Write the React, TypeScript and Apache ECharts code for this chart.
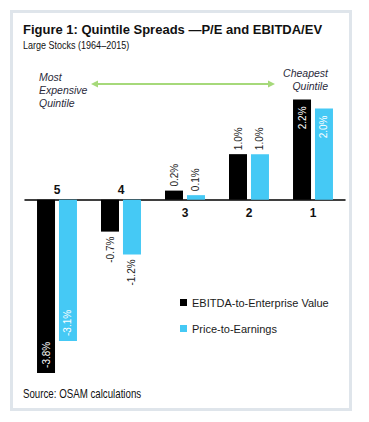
import React, { useEffect, useRef } from "react";
import * as echarts from "echarts";

const categories = ["5", "4", "3", "2", "1"];
const ebitdaEv = [-3.8, -0.7, 0.2, 1.0, 2.2];
const priceEarnings = [-3.1, -1.2, 0.1, 1.0, 2.0];
const seriesNames = ["EBITDA-to-Enterprise Value", "Price-to-Earnings"];

const SANS = '"Liberation Sans", Arial, Helvetica, sans-serif';

function labelFor(v: number) {
  const big = Math.abs(v) >= 2;
  const base = {
    show: true,
    rotate: 90,
    verticalAlign: "middle",
    fontFamily: SANS,
    fontSize: 10,
    formatter: (p: any) => p.value.toFixed(1) + "%",
  } as any;
  if (v >= 0) {
    return big
      ? { ...base, position: "insideTop", align: "right", distance: 7, color: "#ffffff" }
      : { ...base, position: "top", align: "left", distance: 4, color: "#222222" };
  }
  return big
    ? { ...base, position: "insideBottom", align: "left", distance: 5, color: "#ffffff" }
    : { ...base, position: "bottom", align: "right", distance: 5, color: "#222222" };
}

export default function App() {
  const ref = useRef<HTMLDivElement>(null);
  useEffect(() => {
    if (!ref.current) return;
    const chart = echarts.init(ref.current, null, { renderer: "svg" });
    const option: any = {
      animation: false,
      backgroundColor: "#ffffff",
      grid: { left: 25, top: 63, width: 320, height: 319, containLabel: false },
      xAxis: {
        type: "category",
        data: categories,
        axisLine: { onZero: true, lineStyle: { color: "#000000", width: 1.5 } },
        axisTick: { show: false },
        axisLabel: { show: false },
      },
      yAxis: {
        type: "value",
        min: -4,
        max: 3,
        show: false,
        splitLine: { show: false },
      },
      legend: {
        data: seriesNames,
        orient: "vertical",
        left: 180,
        top: 297,
        padding: 0,
        itemWidth: 7,
        itemHeight: 7,
        itemGap: 15,
        icon: "rect",
        textStyle: { fontFamily: SANS, fontSize: 11, color: "#1a1a1a" },
      },
      series: [
        {
          name: seriesNames[0],
          type: "bar",
          barWidth: 18,
          barGap: "22%",
          itemStyle: { color: "#000000" },
          data: ebitdaEv.map((v) => ({ value: v, label: labelFor(v) })),
        },
        {
          name: seriesNames[1],
          type: "bar",
          barWidth: 18,
          itemStyle: { color: "#45c9f5" },
          data: priceEarnings.map((v) => ({ value: v, label: labelFor(v) })),
        },
        {
          type: "custom",
          name: "cats",
          data: categories.map((c, i) => [i, ebitdaEv[i]]),
          renderItem: (params: any, api: any) => {
            const idx = api.value(0);
            const val = api.value(1);
            const pt = api.coord([idx, 0]);
            return {
              type: "text",
              x: pt[0],
              y: val < 0 ? pt[1] - 10 : pt[1] + 13,
              style: {
                text: categories[idx],
                fill: "#111111",
                font: "bold 12px " + SANS,
                align: "center",
                verticalAlign: "middle",
              },
            };
          },
          silent: true,
        },
      ],
      graphic: [
        {
          type: "rect",
          shape: { x: 11.5, y: 11.5, width: 339, height: 398 },
          style: { fill: "none", stroke: "#dfe5eb", lineWidth: 3 },
          silent: true,
        },
        {
          type: "text",
          x: 23,
          y: 23,
          style: {
            text: "Figure 1: Quintile Spreads \u2014P/E and EBITDA/EV",
            font: "bold 13px " + SANS,
            fill: "#111111",
          },
        },
        {
          type: "text",
          x: 23,
          y: 40,
          scaleX: 0.82,
          style: {
            text: "Large Stocks (1964\u20132015)",
            font: "11px " + SANS,
            fill: "#111111",
          },
        },
        {
          type: "text",
          x: 39,
          y: 70,
          style: {
            text: "Most\nExpensive\nQuintile",
            font: "italic 10.5px " + SANS,
            lineHeight: 13,
            fill: "#2a2a3a",
          },
        },
        {
          type: "text",
          x: 328,
          y: 66,
          style: {
            text: "Cheapest\nQuintile",
            font: "italic 10.5px " + SANS,
            lineHeight: 13,
            align: "right",
            fill: "#2a2a3a",
          },
        },
        {
          type: "line",
          shape: { x1: 96, y1: 84, x2: 270, y2: 84 },
          style: { stroke: "#a6d97a", lineWidth: 2 },
        },
        {
          type: "polygon",
          shape: { points: [[91, 84], [98, 80.5], [98, 87.5]] },
          style: { fill: "#a6d97a" },
        },
        {
          type: "polygon",
          shape: { points: [[275, 84], [268, 80.5], [268, 87.5]] },
          style: { fill: "#a6d97a" },
        },
        {
          type: "text",
          x: 23,
          y: 388,
          scaleX: 0.81,
          style: {
            text: "Source: OSAM calculations",
            font: "12px " + SANS,
            fill: "#111111",
          },
        },
      ],
    };
    chart.setOption(option);
    return () => chart.dispose();
  }, []);
  return (
    <div
      ref={ref}
      style={{ position: "fixed", left: 0, top: 0, width: 369, height: 422 }}
    />
  );
}
